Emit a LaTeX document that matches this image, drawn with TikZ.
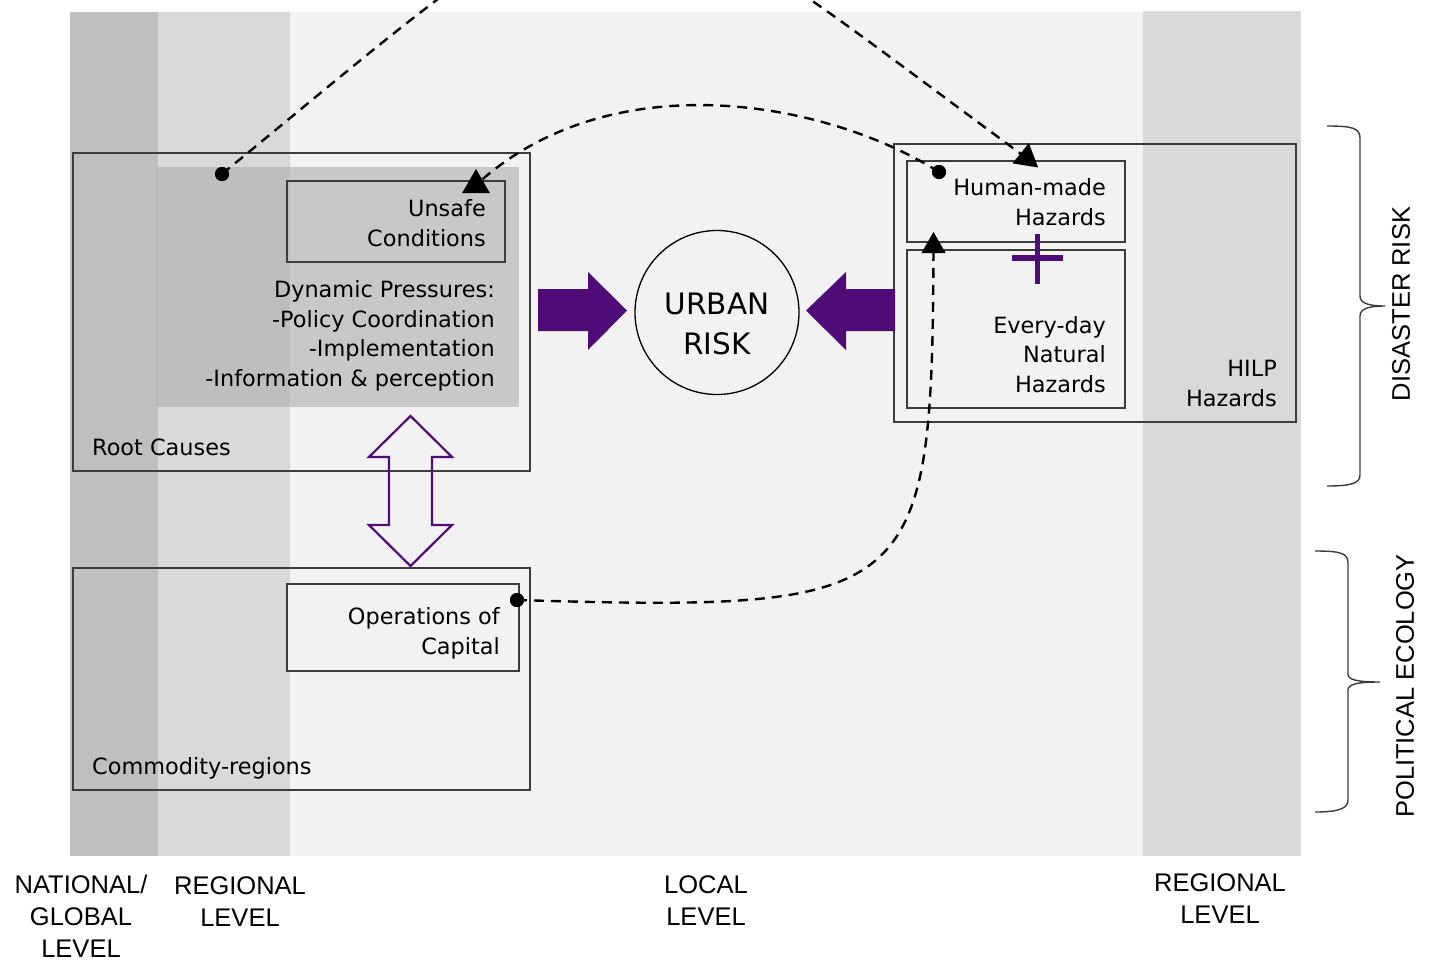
\documentclass[tikz,border=0pt]{standalone}
\usepackage{fontspec}
\newfontfamily\boxfont{DejaVu Sans}
\newfontfamily\labelfont{Liberation Sans}
\usetikzlibrary{shapes.geometric}
\definecolor{bandDark}{HTML}{BFBFBF}
\definecolor{bandMid}{HTML}{D9D9D9}
\definecolor{bandLight}{HTML}{F2F2F2}
\definecolor{shadeGray}{HTML}{ACACAC}
\definecolor{plum}{RGB}{80,12,118}
\definecolor{frameGray}{HTML}{3C3C3C}
\tikzset{
  frame/.style={rectangle, draw=frameGray, line width=1.3pt, inner sep=0pt},
  % multi-line texts are placed by the baseline of their last line
  boxtext/.style={font=\boxfont\fontsize{22.4}{29.5}\selectfont, inner sep=0pt, align=right, anchor=base east},
  lvl/.style={font=\labelfont\fontsize{25.5}{32}\selectfont, inner sep=0pt, align=center, anchor=base},
  sidelbl/.style={font=\labelfont\fontsize{25.5}{32}\selectfont, inner sep=0pt, rotate=90},
  dot/.style={circle, fill=black, minimum size=14pt, inner sep=0pt},
  tiphead/.style={regular polygon, regular polygon sides=3, fill=black, inner sep=0pt},
  link/.style={draw=black, line width=2.4pt, dash pattern=on 10pt off 7pt},
  brace/.style={draw=frameGray, line width=1.4pt},
}
\begin{document}
\begin{tikzpicture}[x=1pt,y=-1pt]
\useasboundingbox (0,0) rectangle (1432,964);
\clip (0,0) rectangle (1432,964);
\fill[white] (0,0) rectangle (1432,964);

% level bands
\fill[bandLight] (70,12) rectangle (1301,856);
\fill[bandDark] (70,12) rectangle (158,856);
\fill[bandMid] (158,12) rectangle (290,856);
\fill[bandMid] (1143,11) rectangle (1301,856);

% dynamic pressures shading
\node[rectangle, fill=shadeGray, fill opacity=0.6, minimum width=362pt, minimum height=240pt, inner sep=0pt] (dp) at (338,287) {};

% boxes
\node[frame, minimum width=457pt, minimum height=318pt] (root) at (301.5,312) {};
\node[frame, minimum width=218pt, minimum height=81pt] (unsafe) at (396,221.5) {};
\node[frame, minimum width=457pt, minimum height=222pt] (comm) at (301.5,679) {};
\node[frame, fill=bandLight, minimum width=232pt, minimum height=87pt] (ops) at (403,627.5) {};
\node[frame, minimum width=402pt, minimum height=278pt] (hilp) at (1095,283) {};
\node[frame, minimum width=218pt, minimum height=81pt] (human) at (1016,201.5) {};
\node[frame, minimum width=218pt, minimum height=158pt] (every) at (1016,329) {};

% box texts
\node[boxtext] (unsafeTxt) at (486,246) {Unsafe\\Conditions};
\node[boxtext] (dpTxt) at (495,386) {Dynamic Pressures:\\-Policy Coordination\\-Implementation\\-Information \& perception};
\node[boxtext, anchor=base west, align=left] (rootTxt) at (92,455) {Root Causes};
\node[boxtext] (opsTxt) at (500,654) {Operations of\\Capital};
\node[boxtext, anchor=base west, align=left] (commTxt) at (92,774) {Commodity-regions};
\node[boxtext] (humanTxt) at (1106,225) {Human-made\\Hazards};
\node[boxtext] (everyTxt) at (1106,392) {Every-day\\Natural\\Hazards};
\node[boxtext] (hilpTxt) at (1277,406) {HILP\\Hazards};

% urban risk
\node[circle, draw=black, line width=1.3pt, minimum size=164pt, inner sep=0pt] (urban) at (717,312.5) {};
\node[font=\boxfont\fontsize{29.5}{39.5}\selectfont, align=center, inner sep=0pt, anchor=base] (urbanTxt) at (717,354) {URBAN\\RISK};

% block arrows into urban risk
\fill[plum] (538,289) -- (588,289) -- (588,272) -- (627,310.5) -- (588,350) -- (588,331) -- (538,331) -- cycle;
\fill[plum] (895,289) -- (846,289) -- (846,272) -- (806,310.5) -- (846,350) -- (846,331) -- (895,331) -- cycle;

% double arrow between root causes and commodity-regions
\draw[plum, line width=2.2pt, line join=miter] (410.5,416) -- (452,457) -- (432,457) -- (432,525) -- (452,525) -- (410.5,566) -- (369,525) -- (389,525) -- (389,457) -- (369,457) -- cycle;

% plus sign
\draw[plum, line width=5.5pt] (1012,258) -- (1063,258) (1037.5,234) -- (1037.5,284);

% connector ends
\node[dot] (d1) at (222,174) {};
\node[dot] (d2) at (939,172) {};
\node[dot] (d3) at (517,600) {};
\coordinate (t1c) at (1026.5,158);
\coordinate (t2c) at (476,185);
\coordinate (t3c) at (933.5,246);

% dashed connectors
\draw[link] (d1.center) .. controls (645,-172) and (585,-166) .. (t1c);
\draw[link] (d2.center) .. controls (825,100) and (610,62) .. (t2c);
\draw[link] (d3.center) .. controls (920,612) and (932,600) .. (t3c);

% arrow heads
\node[tiphead, minimum size=30pt, rotate=-9] (t1) at (t1c) {};
\node[tiphead, minimum size=32pt] (t2) at (t2c) {};
\node[tiphead, minimum size=28pt] (t3) at (t3c) {};
\node[dot] at (d1) {};
\node[dot] at (d2) {};
\node[dot] at (d3) {};

% braces
\draw[brace] (1327,126) .. controls (1352,126) and (1360,128) .. (1360,138) -- (1360,296)
  .. controls (1360,303) and (1368,306) .. (1385,306)
  .. controls (1368,306) and (1360,309) .. (1360,316) -- (1360,475)
  .. controls (1360,483) and (1352,486) .. (1327,486);
\draw[brace] (1315,551) .. controls (1340,551) and (1348,553) .. (1348,563) -- (1348,674)
  .. controls (1348,680) and (1358,682) .. (1380,682)
  .. controls (1358,682) and (1348,684) .. (1348,690) -- (1348,800)
  .. controls (1348,808) and (1340,812) .. (1315,812);
\node[sidelbl] (drLbl) at (1401,304) {DISASTER RISK};
\node[sidelbl] (peLbl) at (1405,686) {POLITICAL ECOLOGY};

% level labels
\node[lvl] (natLbl) at (81,957) {NATIONAL/\\GLOBAL\\LEVEL};
\node[lvl] (regLbl) at (240,926) {REGIONAL\\LEVEL};
\node[lvl] (locLbl) at (706,925) {LOCAL\\LEVEL};
\node[lvl] (regRLbl) at (1220,923) {REGIONAL\\LEVEL};
\end{tikzpicture}
\end{document}
